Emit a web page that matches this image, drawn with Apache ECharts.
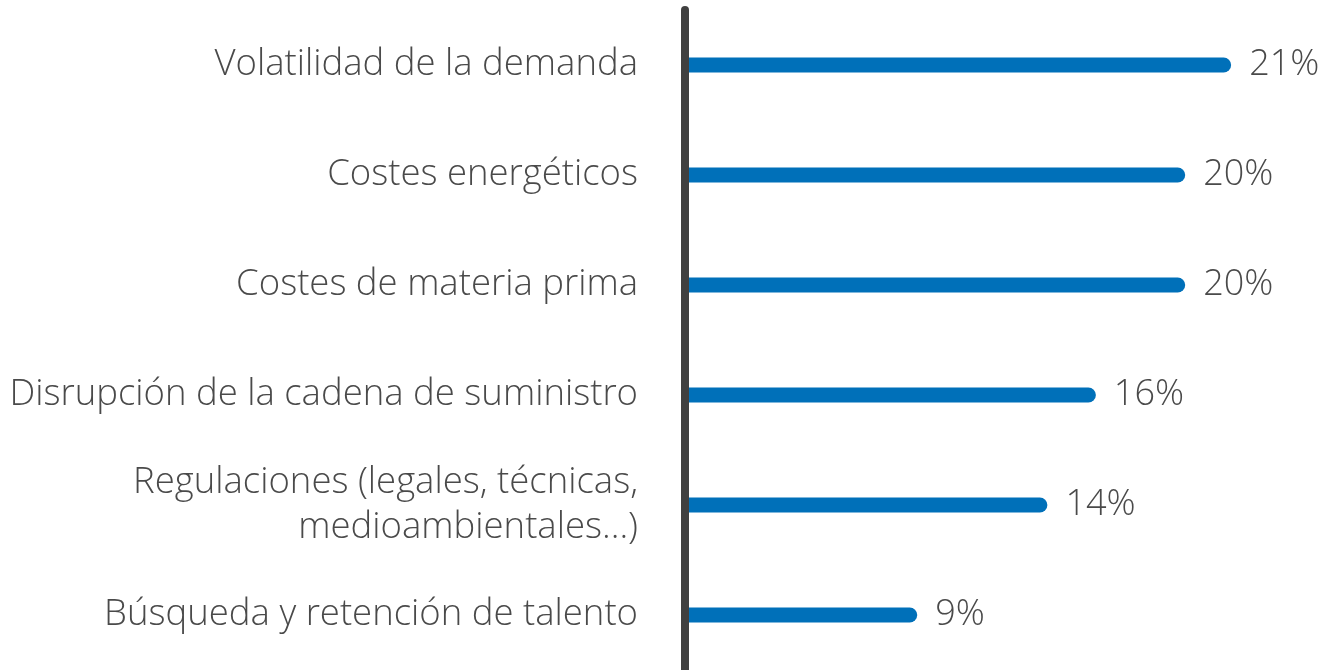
<!DOCTYPE html>
<html>
<head>
<meta charset="utf-8">
<script src="https://cdn.jsdelivr.net/npm/echarts@6/dist/echarts.min.js"></script>
<style>
  html, body { margin: 0; padding: 0; background: #fff; }
  #content { width: 1335px; height: 670px; }
</style>
</head>
<body>
<div id="content"></div>
<script>
// categorías (de arriba a abajo)
var categorias = [
    'Volatilidad de la demanda',
    'Costes energéticos',
    'Costes de materia prima',
    'Disrupción de la cadena de suministro',
    'Regulaciones (legales, técnicas,\nmedioambientales...)',
    'Búsqueda y retención de talento'
];
// porcentajes estimados a partir de la longitud de las barras
var valores = [21.4, 19.6, 19.6, 16.1, 14.2, 9.1];

var myChart = echarts.init(document.getElementById('content'));

var option = {
    animation: false,
    grid: {
        left: 685,
        right: 12,
        top: 10,
        bottom: 0,
        containLabel: false
    },
    xAxis: {
        type: 'value',
        min: 0,
        max: 25,
        show: false
    },
    yAxis: {
        type: 'category',
        inverse: true,
        z: 5,
        data: categorias,
        axisLine: {
            show: true,
            lineStyle: { color: '#404040', width: 8 }
        },
        axisTick: { show: false },
        axisLabel: {
            margin: 47,
            fontFamily: 'Open Sans',
            fontWeight: 300,
            fontSize: 36.5,
            lineHeight: 45,
            color: '#4a4a4a',
            align: 'right'
        }
    },
    series: [{
        type: 'bar',
        data: valores,
        barWidth: 15,
        z: 1,
        itemStyle: {
            color: '#0070b9',
            borderRadius: [0, 7.5, 7.5, 0]
        },
        label: {
            show: true,
            position: 'right',
            distance: 18,
            fontFamily: 'Open Sans',
            fontWeight: 300,
            fontSize: 36,
            color: '#4a4a4a',
            formatter: function(p) {
                return Math.round(p.value) + '%';
            }
        }
    }]
};

myChart.setOption(option);
</script>
</body>
</html>
